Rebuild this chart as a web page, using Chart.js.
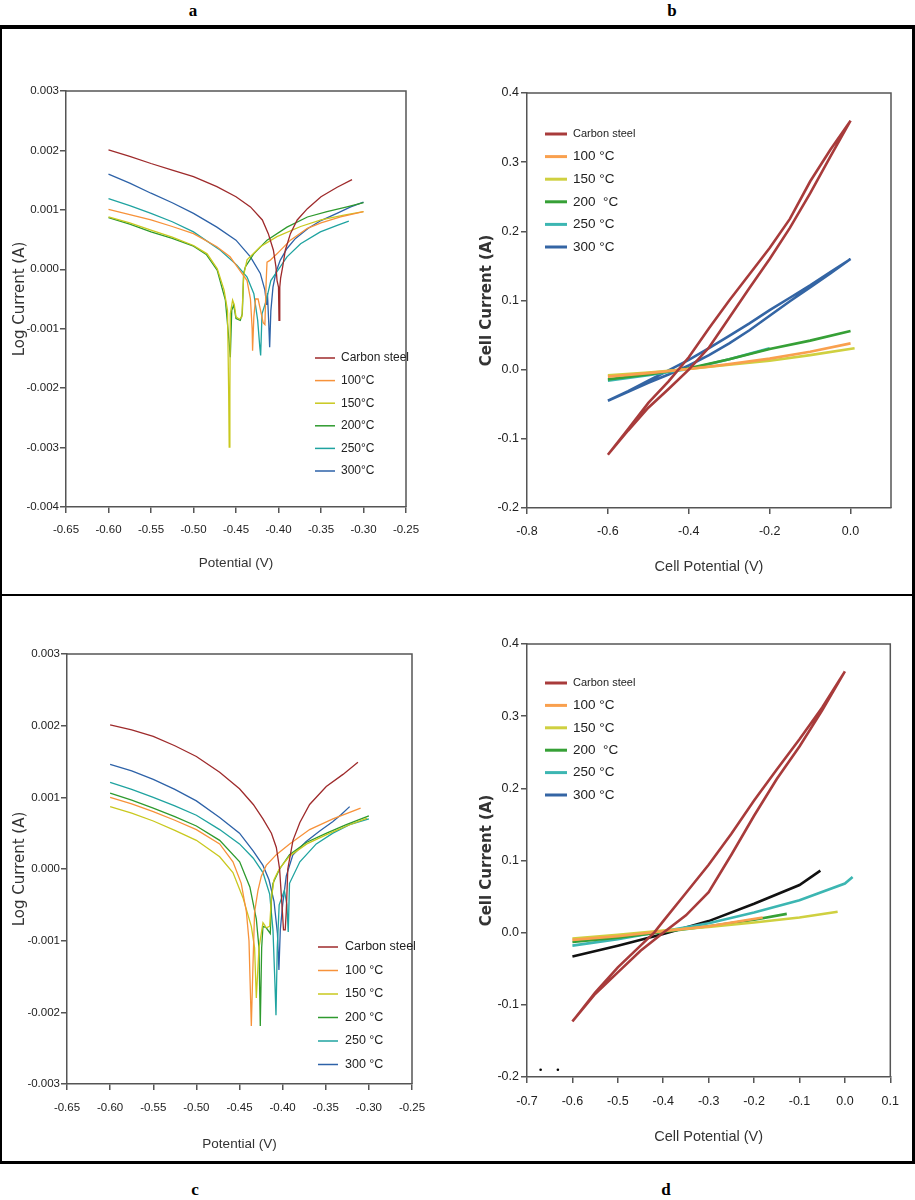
<!DOCTYPE html>
<html>
<head>
<meta charset="utf-8">
<script src="https://cdn.jsdelivr.net/npm/chart.js@4.4.1/dist/chart.umd.min.js"></script>
<style>
  body { margin: 0; background: #fff; width: 915px; height: 1200px; position: relative; overflow: hidden; }
  .frame { position: absolute; left: 0; top: 25px; width: 915px; height: 1139px; box-sizing: border-box;
           border-top: 4px solid #000; border-left: 2px solid #000; border-right: 3px solid #000; border-bottom: 3px solid #000; }
  .divider { position: absolute; left: 0; top: 594px; width: 915px; height: 2px; background: #000; }
  .tag { position: absolute; font: bold 17px 'Liberation Serif', serif; transform: translate(-50%, -50%); }
  canvas { position: absolute; }
</style>
</head>
<body>
<div class="frame"></div>
<div class="divider"></div>
<div class="tag" style="left:193px;top:11px">a</div>
<div class="tag" style="left:672px;top:11px">b</div>
<div class="tag" style="left:195px;top:1190px">c</div>
<div class="tag" style="left:666px;top:1190px">d</div>
<canvas id="chartA" width="446" height="562" style="left:4px;top:30px"></canvas>
<canvas id="chartB" width="452" height="562" style="left:458px;top:30px"></canvas>
<canvas id="chartC" width="446" height="560" style="left:4px;top:599px"></canvas>
<canvas id="chartD" width="452" height="560" style="left:458px;top:599px"></canvas>
<script>
// ---- panel a : potential (V) vs log current (A)
const aCarbon = [[-0.600,0.00201],[-0.575,0.00190],[-0.550,0.00178],[-0.525,0.00167],[-0.500,0.00156],[-0.4725,0.00139],[-0.450,0.00122],[-0.433,0.00105],[-0.419,0.00083],[-0.412,0.00060],[-0.406,0.00032],[-0.403,0.00004],[-0.4017,-0.00019],[-0.4000,-0.00030],[-0.3994,-0.00086],[-0.3985,-0.00030],[-0.3975,-0.00015],[-0.395,0.00005],[-0.392,0.00032],[-0.386,0.00060],[-0.378,0.00083],[-0.366,0.00102],[-0.350,0.00122],[-0.331,0.00138],[-0.3135,0.00151]]
const a100 = [[-0.600,0.00101],[-0.575,0.00092],[-0.550,0.00083],[-0.525,0.00072],[-0.500,0.00060],[-0.4725,0.00038],[-0.457,0.00021],[-0.447,0.00001],[-0.437,-0.00019],[-0.433,-0.00050],[-0.431,-0.00100],[-0.4305,-0.00137],[-0.429,-0.00080],[-0.427,-0.00050],[-0.424,-0.00050],[-0.421,-0.00070],[-0.418,-0.00090],[-0.416,-0.00093],[-0.4145,-0.00020],[-0.4135,0.00012],[-0.410,0.00015],[-0.4018,0.00026],[-0.386,0.00049],[-0.366,0.00069],[-0.350,0.00078],[-0.327,0.00088],[-0.300,0.00097]]
const a150 = [[-0.600,0.00088],[-0.575,0.00078],[-0.550,0.00066],[-0.525,0.00054],[-0.500,0.00040],[-0.484,0.00026],[-0.472,0.00001],[-0.464,-0.00035],[-0.460,-0.00069],[-0.4586,-0.00210],[-0.458,-0.00299],[-0.4572,-0.00210],[-0.4567,-0.00075],[-0.454,-0.00052],[-0.452,-0.00060],[-0.450,-0.00080],[-0.446,-0.00084],[-0.443,-0.00080],[-0.441,-0.00010],[-0.437,0.00016],[-0.4214,0.00038],[-0.4018,0.00055],[-0.374,0.00072],[-0.350,0.00083],[-0.323,0.00091],[-0.300,0.00097]]
const a200 = [[-0.600,0.00087],[-0.575,0.00076],[-0.550,0.00063],[-0.525,0.00052],[-0.500,0.00039],[-0.485,0.00025],[-0.472,-0.00002],[-0.4625,-0.00052],[-0.459,-0.00108],[-0.4567,-0.00148],[-0.455,-0.00069],[-0.4527,-0.00060],[-0.450,-0.00083],[-0.445,-0.00086],[-0.4426,-0.00075],[-0.441,-0.00007],[-0.439,0.00004],[-0.4292,0.00026],[-0.4135,0.00049],[-0.390,0.00071],[-0.366,0.00088],[-0.343,0.00097],[-0.3194,0.00105],[-0.300,0.00112]]
const a250 = [[-0.600,0.00119],[-0.575,0.00107],[-0.550,0.00094],[-0.525,0.00080],[-0.500,0.00063],[-0.4684,0.00032],[-0.449,0.00007],[-0.437,-0.00013],[-0.429,-0.00041],[-0.4245,-0.00086],[-0.422,-0.00131],[-0.421,-0.00145],[-0.4194,-0.00075],[-0.4143,-0.00052],[-0.4116,-0.00035],[-0.409,-0.00019],[-0.4018,-0.00004],[-0.390,0.00021],[-0.374,0.00043],[-0.3508,0.00063],[-0.331,0.00074],[-0.3173,0.00081]]
const a300 = [[-0.600,0.00160],[-0.575,0.00145],[-0.550,0.00128],[-0.525,0.00112],[-0.500,0.00094],[-0.4725,0.00071],[-0.450,0.00049],[-0.433,0.00021],[-0.4214,-0.00007],[-0.416,-0.00035],[-0.414,-0.00060],[-0.413,-0.00040],[-0.4115,-0.00090],[-0.4104,-0.00131],[-0.409,-0.00070],[-0.4065,-0.00030],[-0.403,-0.00005],[-0.398,0.00015],[-0.390,0.00035],[-0.380,0.00052],[-0.365,0.00069],[-0.350,0.00082],[-0.330,0.00095],[-0.315,0.00105],[-0.300,0.00113]]

// ---- panel b : cell potential vs cell current
const bCarbon = [[-0.60,-0.123],[-0.55,-0.088],[-0.50,-0.055],[-0.45,-0.028],[-0.40,0.000],[-0.35,0.032],[-0.30,0.075],[-0.25,0.118],[-0.20,0.160],[-0.15,0.205],[-0.10,0.255],[-0.05,0.308],[0.00,0.360],[-0.05,0.318],[-0.10,0.272],[-0.15,0.218],[-0.20,0.176],[-0.25,0.138],[-0.30,0.100],[-0.35,0.060],[-0.40,0.018],[-0.45,-0.017],[-0.50,-0.048],[-0.55,-0.086],[-0.60,-0.123]]
const b100 = [[-0.60,-0.010],[-0.50,-0.005],[-0.40,0.001],[-0.30,0.008],[-0.20,0.016],[-0.10,0.026],[0.00,0.038]]
const b150 = [[-0.60,-0.008],[-0.50,-0.004],[-0.40,0.001],[-0.30,0.007],[-0.20,0.013],[-0.10,0.021],[0.01,0.031]]
const b200 = [[-0.60,-0.014],[-0.50,-0.007],[-0.40,0.002],[-0.30,0.015],[-0.20,0.030],[-0.10,0.042],[0.00,0.056]]
const b250 = [[-0.60,-0.016],[-0.50,-0.008],[-0.40,0.001],[-0.30,0.015],[-0.20,0.031]]
const b300 = [[-0.60,-0.045],[-0.55,-0.032],[-0.50,-0.019],[-0.45,-0.007],[-0.40,0.006],[-0.35,0.021],[-0.30,0.038],[-0.25,0.057],[-0.20,0.078],[-0.15,0.099],[-0.10,0.119],[-0.05,0.139],[0.00,0.160],[-0.05,0.141],[-0.10,0.122],[-0.15,0.104],[-0.20,0.086],[-0.25,0.067],[-0.30,0.049],[-0.35,0.031],[-0.40,0.014],[-0.45,-0.001],[-0.50,-0.016],[-0.55,-0.031],[-0.60,-0.045]]

// ---- panel c
const cCarbon = [[-0.600,0.00201],[-0.575,0.00194],[-0.550,0.00185],[-0.525,0.00172],[-0.500,0.00157],[-0.473,0.00135],[-0.450,0.00112],[-0.434,0.00090],[-0.4228,0.00070],[-0.413,0.00050],[-0.4073,0.00030],[-0.4035,0.00000],[-0.4016,-0.00035],[-0.400,-0.00065],[-0.399,-0.00085],[-0.397,-0.00085],[-0.3958,-0.00060],[-0.394,0.00000],[-0.388,0.00040],[-0.380,0.00065],[-0.3687,0.00090],[-0.3494,0.00115],[-0.330,0.00132],[-0.3127,0.00149]]
const c100 = [[-0.600,0.00100],[-0.575,0.00091],[-0.550,0.00080],[-0.525,0.00068],[-0.500,0.00055],[-0.473,0.00035],[-0.4576,0.00010],[-0.448,-0.00020],[-0.442,-0.00060],[-0.439,-0.00100],[-0.4363,-0.00219],[-0.4344,-0.00135],[-0.4325,-0.00060],[-0.4286,-0.00030],[-0.4247,-0.00010],[-0.419,0.00005],[-0.4073,0.00020],[-0.3919,0.00035],[-0.3687,0.00055],[-0.3417,0.00070],[-0.3096,0.00085]]
const c150 = [[-0.600,0.00087],[-0.575,0.00078],[-0.550,0.00067],[-0.525,0.00054],[-0.500,0.00040],[-0.473,0.00017],[-0.4576,-0.00005],[-0.446,-0.00040],[-0.4363,-0.00080],[-0.4325,-0.00110],[-0.4305,-0.00180],[-0.4274,-0.00110],[-0.4228,-0.00075],[-0.421,-0.00078],[-0.419,-0.00082],[-0.415,-0.00080],[-0.413,-0.00040],[-0.410,-0.00015],[-0.404,0.00000],[-0.392,0.00018],[-0.372,0.00035],[-0.349,0.00048],[-0.326,0.00060],[-0.302,0.00071]]
const c200 = [[-0.600,0.00106],[-0.575,0.00096],[-0.550,0.00085],[-0.525,0.00073],[-0.500,0.00060],[-0.473,0.00040],[-0.4498,0.00010],[-0.438,-0.00025],[-0.4305,-0.00070],[-0.4274,-0.00110],[-0.4259,-0.00219],[-0.4243,-0.00110],[-0.4228,-0.00080],[-0.419,-0.00082],[-0.4143,-0.00090],[-0.413,-0.00045],[-0.4112,-0.00020],[-0.4093,-0.00015],[-0.4035,0.00000],[-0.392,0.00020],[-0.3726,0.00037],[-0.349,0.00050],[-0.3262,0.00062],[-0.300,0.00074]]
const c250 = [[-0.600,0.00121],[-0.575,0.00111],[-0.550,0.00100],[-0.525,0.00088],[-0.500,0.00075],[-0.473,0.00055],[-0.450,0.00035],[-0.434,0.00015],[-0.4228,-0.00005],[-0.415,-0.00035],[-0.4112,-0.00085],[-0.4089,-0.00160],[-0.4077,-0.00204],[-0.4062,-0.00110],[-0.404,-0.00050],[-0.398,-0.00030],[-0.395,-0.00050],[-0.3935,-0.00088],[-0.392,-0.00020],[-0.380,0.00010],[-0.361,0.00035],[-0.3417,0.00050],[-0.3223,0.00062],[-0.300,0.00070]]
const c300 = [[-0.600,0.00146],[-0.575,0.00137],[-0.550,0.00125],[-0.525,0.00111],[-0.500,0.00095],[-0.473,0.00072],[-0.450,0.00050],[-0.434,0.00025],[-0.4228,0.00005],[-0.4158,-0.00015],[-0.410,-0.00045],[-0.406,-0.00090],[-0.4043,-0.00141],[-0.4027,-0.00085],[-0.400,-0.00050],[-0.3958,-0.00010],[-0.388,0.00020],[-0.373,0.00038],[-0.357,0.00053],[-0.342,0.00066],[-0.332,0.00076],[-0.3223,0.00087]]

// ---- panel d
const dCarbon = [[-0.60,-0.123],[-0.55,-0.085],[-0.50,-0.055],[-0.45,-0.025],[-0.40,0.000],[-0.35,0.024],[-0.30,0.056],[-0.25,0.108],[-0.20,0.162],[-0.15,0.213],[-0.10,0.258],[-0.05,0.308],[0.00,0.362],[-0.05,0.312],[-0.10,0.268],[-0.15,0.226],[-0.20,0.183],[-0.25,0.137],[-0.30,0.094],[-0.35,0.055],[-0.40,0.016],[-0.42,0.000],[-0.45,-0.018],[-0.50,-0.048],[-0.55,-0.083],[-0.60,-0.123]]
const d100 = [[-0.60,-0.010],[-0.50,-0.005],[-0.40,0.002],[-0.30,0.009],[-0.181,0.021]]
const d150 = [[-0.60,-0.008],[-0.50,-0.003],[-0.40,0.003],[-0.30,0.008],[-0.20,0.014],[-0.10,0.021],[-0.016,0.029]]
const d200 = [[-0.60,-0.013],[-0.50,-0.007],[-0.40,0.001],[-0.30,0.009],[-0.20,0.018],[-0.128,0.026]]
const d250 = [[-0.60,-0.018],[-0.50,-0.009],[-0.40,0.002],[-0.30,0.013],[-0.20,0.028],[-0.10,0.045],[0.00,0.068],[0.017,0.077]]
const d300 = [[-0.60,-0.033],[-0.50,-0.018],[-0.40,-0.002],[-0.30,0.016],[-0.20,0.040],[-0.10,0.066],[-0.054,0.086]]
const dSpecks = [[-0.670,-0.190],[-0.632,-0.190]]

// legend texts
const legendA = ['Carbon steel', '100\u00B0C', '150\u00B0C', '200\u00B0C', '250\u00B0C', '300\u00B0C']
const legendB = ['Carbon steel', '100 \u00B0C', '150 \u00B0C', '200  \u00B0C', '250 \u00B0C', '300 \u00B0C']
const legendC = ['Carbon steel', '100 \u00B0C', '150 \u00B0C', '200 \u00B0C', '250 \u00B0C', '300 \u00B0C']
const legendD = ['Carbon steel', '100 \u00B0C', '150 \u00B0C', '200  \u00B0C', '250 \u00B0C', '300 \u00B0C']

// tick values
const ticksPotential = [-0.65, -0.60, -0.55, -0.50, -0.45, -0.40, -0.35, -0.30, -0.25]
const ticksLogA = [-0.004, -0.003, -0.002, -0.001, 0, 0.001, 0.002, 0.003]
const ticksLogC = [-0.003, -0.002, -0.001, 0, 0.001, 0.002, 0.003]
const ticksCellB = [-0.8, -0.6, -0.4, -0.2, 0.0]
const ticksCellD = [-0.7, -0.6, -0.5, -0.4, -0.3, -0.2, -0.1, 0.0, 0.1]
const ticksCurrent = [-0.2, -0.1, 0.0, 0.1, 0.2, 0.3, 0.4]

const colorsThin = ['#9e2a2b', '#f7923a', '#c9c81e', '#2e9a2e', '#1fa3a0', '#2d62a8']
const colorsThick = ['#a83b3b', '#f9a04e', '#cfd040', '#36a036', '#3cb6b2', '#3465a4']

const NARROW = "'Liberation Sans Narrow', 'Liberation Sans', Arial, sans-serif"

generateChart = (id, config) => new Chart(document.getElementById(id), config)

const boxPlugin = {
    id: 'box',
    afterDatasetsDraw(chart) {
        const {ctx, chartArea: a} = chart
        ctx.save()
        ctx.strokeStyle = '#555'
        ctx.lineWidth = 1.5
        ctx.beginPath()
        ctx.moveTo(a.left, a.top)
        ctx.lineTo(a.right, a.top)
        ctx.lineTo(a.right, a.bottom)
        ctx.stroke()
        ctx.restore()
    }
}

// legend drawn inside the plot, like the original figure
const insideLegend = (labels, colors, pos) => ({
    id: 'insideLegend',
    afterDraw(chart) {
        const ctx = chart.ctx
        ctx.save()
        ctx.textBaseline = 'middle'
        labels.forEach((t, i) => {
            const y = pos.y + i * pos.gap
            ctx.strokeStyle = colors[i]
            ctx.lineWidth = pos.lineWidth
            ctx.beginPath()
            ctx.moveTo(pos.x, y)
            ctx.lineTo(pos.x + pos.len, y)
            ctx.stroke()
            ctx.fillStyle = '#222'
            ctx.font = (i === 0 && pos.firstFont) ? pos.firstFont : pos.font
            ctx.fillText(t, pos.x + pos.len + pos.pad, y)
        })
        ctx.restore()
    }
})

const lines = (series, labels, colors, width) => series.map((s, i) => ({
    label: labels[i],
    data: s.map(p => ({x: p[0], y: p[1]})),
    borderColor: colors[i],
    borderWidth: width,
    pointRadius: 0,
    showLine: true,
    fill: false,
    tension: 0
}))

const axis = o => ({
    type: 'linear',
    position: o.position,
    min: o.min,
    max: o.max,
    afterBuildTicks: s => { s.ticks = o.ticks.map(v => ({value: v})) },
    afterFit: s => { if (o.position === 'left') s.width = o.fit; else s.height = o.fit },
    border: {display: true, color: '#555', width: 1.5},
    grid: {drawOnChartArea: false, drawTicks: true, tickLength: 6, color: '#555', lineWidth: 1.5},
    ticks: {
        color: '#222',
        padding: o.pad,
        maxRotation: 0,
        autoSkip: false,
        font: {family: NARROW, size: o.size},
        callback: v => (Math.abs(v) < 1e-9 ? 0 : v).toFixed(o.digits)
    },
    title: {display: true, text: o.title, color: '#333', font: o.titleFont, padding: o.titlePad}
})

const baseOptions = (x, y, pad) => ({
    responsive: false,
    animation: false,
    layout: {padding: pad},
    plugins: {legend: {display: false}, tooltip: {enabled: false}},
    scales: {x: axis(x), y: axis(y)}
})

// ---------- a
generateChart('chartA', {
    type: 'scatter',
    data: {datasets: lines([aCarbon, a100, a150, a200, a250, a300], legendA, colorsThin, 1.3)},
    options: baseOptions(
        {position: 'bottom', min: -0.65, max: -0.25, ticks: ticksPotential, digits: 2, size: 11.5, pad: 10, fit: 85,
         title: 'Potential (V)', titleFont: {family: NARROW, size: 13.5}, titlePad: {top: 0, bottom: 21}},
        {position: 'left', min: -0.004, max: 0.003, ticks: ticksLogA, digits: 3, size: 11.5, pad: 1, fit: 62,
         title: 'Log Current (A)', titleFont: {family: 'DejaVu Sans', size: 15}, titlePad: {top: 7, bottom: 0}},
        {top: 61, right: 44, left: 0, bottom: 0}),
    plugins: [boxPlugin, insideLegend(legendA, colorsThin, {x: 311, y: 328, gap: 22.6, len: 20, pad: 6, lineWidth: 1.5, font: '12px ' + NARROW})]
})

// ---------- b
generateChart('chartB', {
    type: 'scatter',
    data: {datasets: lines([bCarbon, b100, b150, b200, b250, b300], legendB, colorsThick, 2.6)},
    options: baseOptions(
        {position: 'bottom', min: -0.8, max: 0.1, ticks: ticksCellB, digits: 1, size: 12.5, pad: 10, fit: 84,
         title: 'Cell Potential (V)', titleFont: {family: NARROW, size: 14.5}, titlePad: {top: 0, bottom: 16}},
        {position: 'left', min: -0.2, max: 0.4, ticks: ticksCurrent, digits: 1, size: 12.5, pad: 2, fit: 69,
         title: 'Cell Current (A)', titleFont: {family: 'DejaVu Sans', size: 15, weight: 'bold'}, titlePad: {top: 20, bottom: 0}},
        {top: 63, right: 19, left: 0, bottom: 0}),
    plugins: [boxPlugin, insideLegend(legendB, colorsThick, {x: 87, y: 104, gap: 22.6, len: 22, pad: 6, lineWidth: 3, font: '13.5px ' + NARROW, firstFont: '11px ' + NARROW})]
})

// ---------- c
generateChart('chartC', {
    type: 'scatter',
    data: {datasets: lines([cCarbon, c100, c150, c200, c250, c300], legendC, colorsThin, 1.3)},
    options: baseOptions(
        {position: 'bottom', min: -0.65, max: -0.25, ticks: ticksPotential, digits: 2, size: 11.5, pad: 11, fit: 75,
         title: 'Potential (V)', titleFont: {family: NARROW, size: 13.5}, titlePad: {top: 0, bottom: 7}},
        {position: 'left', min: -0.003, max: 0.003, ticks: ticksLogC, digits: 3, size: 11.5, pad: 1, fit: 63,
         title: 'Log Current (A)', titleFont: {family: 'DejaVu Sans', size: 15}, titlePad: {top: 7, bottom: 0}},
        {top: 55, right: 38, left: 0, bottom: 0}),
    plugins: [boxPlugin, insideLegend(legendC, colorsThin, {x: 314, y: 348, gap: 23.5, len: 20, pad: 7, lineWidth: 1.5, font: '12.5px ' + NARROW})]
})

// ---------- d
const dColors = ['#a83b3b', '#f9a04e', '#cfd040', '#36a036', '#3cb6b2', '#111111']
const dSets = lines([dCarbon, d100, d150, d200, d250, d300], legendD, dColors, 2.6)
dSets.push({label: '', data: dSpecks.map(p => ({x: p[0], y: p[1]})), pointRadius: 1.3, pointBackgroundColor: '#000', pointBorderWidth: 0, showLine: false})
generateChart('chartD', {
    type: 'scatter',
    data: {datasets: dSets},
    options: baseOptions(
        {position: 'bottom', min: -0.7, max: 0.1, ticks: ticksCellD, digits: 1, size: 12.5, pad: 11, fit: 82,
         title: 'Cell Potential (V)', titleFont: {family: NARROW, size: 14.5}, titlePad: {top: 0, bottom: 13}},
        {position: 'left', min: -0.2, max: 0.4, ticks: ticksCurrent, digits: 1, size: 12.5, pad: 2, fit: 69,
         title: 'Cell Current (A)', titleFont: {family: 'DejaVu Sans', size: 15, weight: 'bold'}, titlePad: {top: 20, bottom: 0}},
        {top: 45, right: 19, left: 0, bottom: 0}),
    plugins: [boxPlugin, insideLegend(legendD, colorsThick, {x: 87, y: 84, gap: 22.4, len: 22, pad: 6, lineWidth: 3, font: '13.5px ' + NARROW, firstFont: '11px ' + NARROW})]
})
</script>
</body>
</html>
